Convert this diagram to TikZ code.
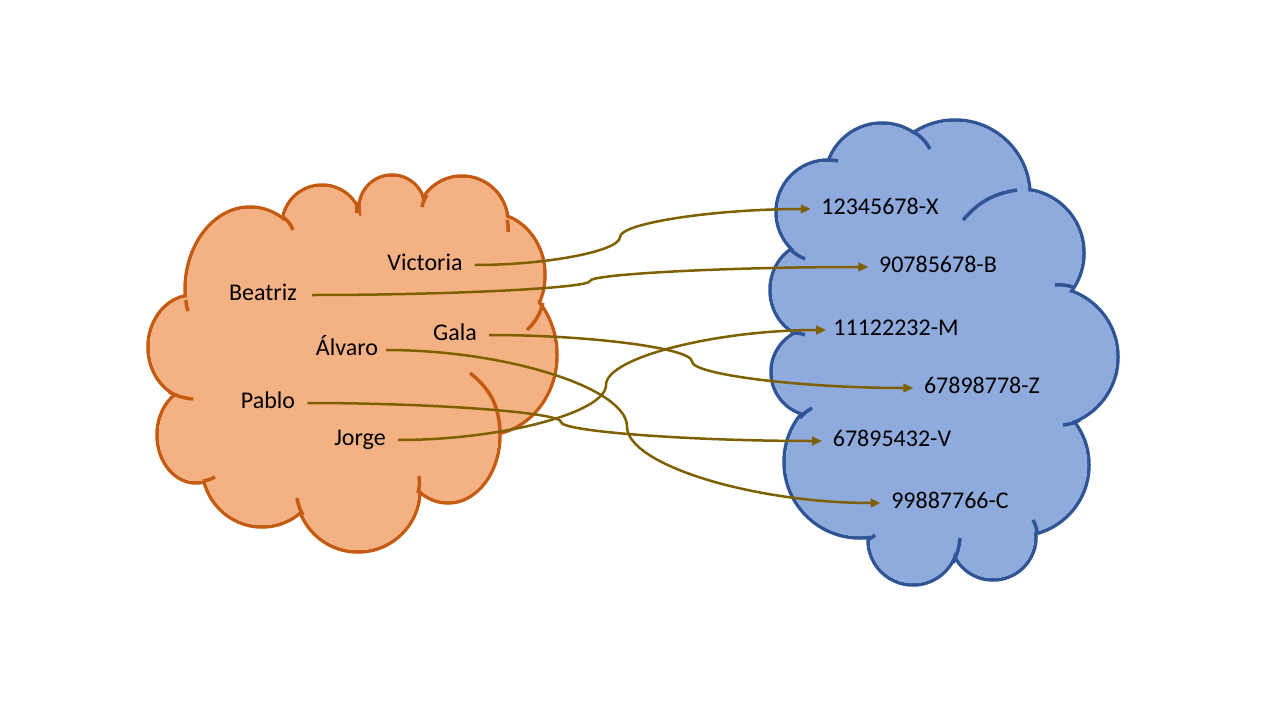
\documentclass[tikz,border=0pt]{standalone}
\usepackage{fontspec}
\setmainfont{Carlito}
\usetikzlibrary{arrows.meta,calc}

\definecolor{orangefill}{HTML}{F4B183}
\definecolor{orangeline}{HTML}{C55A11}
\definecolor{bluefill}{HTML}{8FAADC}
\definecolor{blueline}{HTML}{2F5597}
\definecolor{linkbrown}{HTML}{7F6000}

\tikzset{
	oline/.style={draw=orangeline,line width=3.5pt},
	bline/.style={draw=blueline,line width=3.5pt},
	txt/.style={font=\fontsize{24}{28}\selectfont,text height=15pt,text depth=4pt,inner ysep=0pt},
	person/.style={txt,inner xsep=12pt},
	dni/.style={txt,inner xsep=10.5pt},
	link/.style={draw=linkbrown,line width=2.5pt,-{Triangle[length=10pt,width=8.5pt]}}
}

% bumps of the clouds: x/y/x radius/y radius
\newcommand{\orangebumps}{250/290/65/83, 322/225/40/40, 392/208/33/33, 462/222/46/46,
	490/275/55/62, 485/355/72/80, 448/435/52/68, 358/490/62/62, 262/466/60/61,
	196/435/39/48, 193/347/45/52}
\newcommand{\bluebumps}{828/212/52/52, 882/180/57/57, 955/195/75/75, 1020/253/64/64,
	1048/357/70/70, 1018/465/71/71, 993/537/43/43, 913/540/45/45, 860/462/76/76,
	815/372/44/44, 814/290/44/48}

% curved connector, kink at x = #3
\newcommand{\curvelink}[3]{%
	\draw[link] let \p1=(#1.east), \p2=(#2.west) in
		(\p1) .. controls ({(\x1+#3pt)/2},\y1) and (#3pt,{0.75*\y1+0.25*\y2})
		.. (#3pt,{0.5*\y1+0.5*\y2})
		.. controls (#3pt,{0.25*\y1+0.75*\y2}) and ({(\x2+#3pt)/2},\y2) .. (\p2);}

\begin{document}
\begin{tikzpicture}[x=1pt,y=-1pt]
	\useasboundingbox[fill=white] (0,0) rectangle (1280,720);
	% orange cloud
	\foreach \x/\y/\rx/\ry in \orangebumps
		\draw[oline] (\x,\y) ellipse [x radius=\rx pt, y radius=\ry pt];
	\fill[orangefill] (250,290) \foreach \x/\y/\rx/\ry in \orangebumps {-- (\x,\y)} -- cycle;
	\foreach \x/\y/\rx/\ry in \orangebumps
		\fill[orangefill] (\x,\y) ellipse [x radius=\rx pt-1.75pt, y radius=\ry pt-1.75pt];
	\foreach \xa/\ya/\xb/\yb/\b in {186/300/188/311/-8, 283/217/293/230/15, 357/213/358/202/10,
		422/207/427/195/10, 507/220/508/232/10, 543/303/527/330/15, 470/373/500/432/25,
		419/476/418/493/10, 303/515/297/498/10, 203/481/215/477/-10, 169/392/193/399/-10}
		\draw[oline] (\xa,\ya) to[bend left=\b] (\xb,\yb);
	% blue cloud
	\foreach \x/\y/\rx/\ry in \bluebumps
		\draw[bline] (\x,\y) ellipse [x radius=\rx pt, y radius=\ry pt];
	\fill[bluefill] (828,212) \foreach \x/\y/\rx/\ry in \bluebumps {-- (\x,\y)} -- cycle;
	\foreach \x/\y/\rx/\ry in \bluebumps
		\fill[bluefill] (\x,\y) ellipse [x radius=\rx pt-1.75pt, y radius=\ry pt-1.75pt];
	\foreach \xa/\ya/\xb/\yb/\b in {828/160/838/161/5, 912/131/930/149/15, 963/220/1017/190/20,
		1055/285/1073/287/10, 1080/420/1063/425/10, 1033/520/1037/532/10, 960/538/953/563/10,
		875/535/867/540/10, 800/418/812/408/10, 795/333/805/335/10, 805/259/790/249/10}
		\draw[bline] (\xa,\ya) to[bend left=\b] (\xb,\yb);
	% names
	\node[person] (victoria) at (425,265) {Victoria};
	\node[person,inner xsep=15pt] (beatriz) at (263,295) {Beatriz};
	\node[person] (gala) at (455,335) {Gala};
	\node[person,inner xsep=8pt] (alvaro) at (347,350) {Álvaro};
	\node[person] (pablo) at (268,403) {Pablo};
	\node[person] (jorge) at (360,440) {Jorge};
	% ids
	\node[dni] (idX) at (880,209) {12345678-X};
	\node[dni] (idB) at (938,267) {90785678-B};
	\node[dni,inner xsep=7pt] (idM) at (896,330) {11122232-M};
	\node[dni] (idZ) at (982,388) {67898778-Z};
	\node[dni] (idV) at (892,441) {67895432-V};
	\node[dni] (idC) at (950,503) {99887766-C};
	% links
	\curvelink{victoria}{idX}{620}
	\curvelink{beatriz}{idB}{590}
	\curvelink{gala}{idZ}{692}
	\curvelink{alvaro}{idC}{627}
	\curvelink{pablo}{idV}{561}
	\curvelink{jorge}{idM}{606}
\end{tikzpicture}
\end{document}
